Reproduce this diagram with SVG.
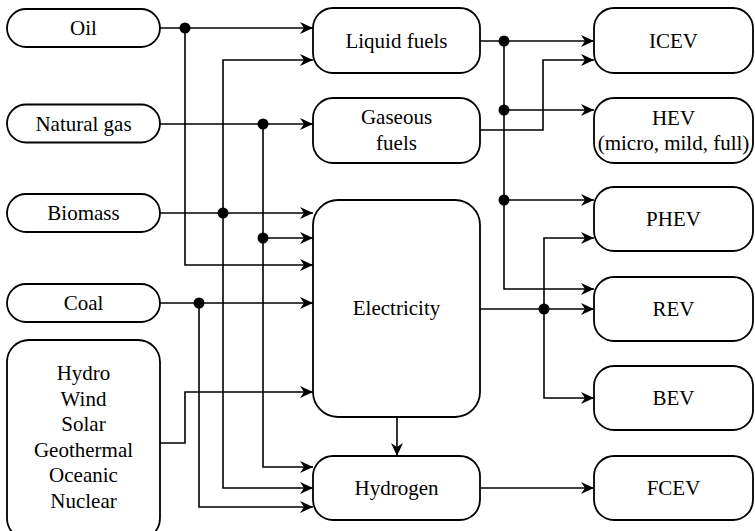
<svg xmlns="http://www.w3.org/2000/svg" width="755" height="531" viewBox="0 0 755 531">
<style>
.box{fill:#fff;stroke:#000;stroke-width:1.8}
.t{font-family:'Liberation Serif','Times New Roman',serif;font-size:21px;text-anchor:middle;fill:#000}
.c{fill:none;stroke:#000;stroke-width:1.6;marker-end:url(#ah)}
.d{fill:#000}
</style>
<defs>
<marker id="ah" markerUnits="userSpaceOnUse" markerWidth="14" markerHeight="12" refX="13" refY="6" orient="auto" viewBox="0 0 14 12">
<path d="M0,0 L13,6 L0,12 L4,6 z" fill="#000"/>
</marker>
</defs>
<g id="connectors">
<path class="c" d="M160,28 H313"/>
<path class="c" d="M185,28 V265 H313"/>
<path class="c" d="M160,124 H313"/>
<path class="c" d="M263,124 V467 H313"/>
<path class="c" d="M263,238 H313"/>
<path class="c" d="M160,213 H313"/>
<path class="c" d="M223,213 V60 H313"/>
<path class="c" d="M223,213 V488 H313"/>
<path class="c" d="M160,303 H313"/>
<path class="c" d="M199,303 V507 H313"/>
<path class="c" d="M160,443 H185 V392 H313"/>
<path class="c" d="M397,417 V456"/>
<path class="c" d="M480,41 H594"/>
<path class="c" d="M504,41 V289 H594"/>
<path class="c" d="M504,110 H594"/>
<path class="c" d="M504,200 H594"/>
<path class="c" d="M480,130 H543 V60 H594"/>
<path class="c" d="M480,309 H594"/>
<path class="c" d="M544,309 V238 H594"/>
<path class="c" d="M544,309 V398 H594"/>
<path class="c" d="M480,488 H594"/>
<circle class="d" cx="185" cy="28" r="5.5"/>
<circle class="d" cx="263" cy="124" r="5.5"/>
<circle class="d" cx="263" cy="238" r="5.5"/>
<circle class="d" cx="223" cy="213" r="5.5"/>
<circle class="d" cx="199" cy="303" r="5.5"/>
<circle class="d" cx="504" cy="41" r="5.5"/>
<circle class="d" cx="504" cy="110" r="5.5"/>
<circle class="d" cx="504" cy="200" r="5.5"/>
<circle class="d" cx="544" cy="309" r="5.5"/>
</g>
<g id="oil"><rect class="box" x="7" y="9" width="153" height="38" rx="19"/><text class="t" x="83.5" y="35">Oil</text></g>
<g id="natural-gas"><rect class="box" x="7" y="104.5" width="153" height="38" rx="19"/><text class="t" x="83.5" y="131">Natural gas</text></g>
<g id="biomass"><rect class="box" x="7" y="194" width="153" height="38" rx="19"/><text class="t" x="83.5" y="220">Biomass</text></g>
<g id="coal"><rect class="box" x="7" y="284" width="153" height="38" rx="19"/><text class="t" x="83.5" y="310">Coal</text></g>
<g id="renewables"><rect class="box" x="7" y="340" width="153" height="200" rx="22"/>
<text class="t" x="83.5" y="380">Hydro</text>
<text class="t" x="83.5" y="405.6">Wind</text>
<text class="t" x="83.5" y="431.2">Solar</text>
<text class="t" x="83.5" y="456.8">Geothermal</text>
<text class="t" x="83.5" y="482.4">Oceanic</text>
<text class="t" x="83.5" y="508">Nuclear</text></g>
<g id="liquid-fuels"><rect class="box" x="313" y="8" width="167" height="65" rx="20"/><text class="t" x="396.5" y="47.5">Liquid fuels</text></g>
<g id="gaseous-fuels"><rect class="box" x="313" y="98" width="167" height="65" rx="20"/><text class="t" x="396.5" y="124">Gaseous</text><text class="t" x="396.5" y="149.5">fuels</text></g>
<g id="electricity"><rect class="box" x="313" y="200" width="167" height="217" rx="25"/><text class="t" x="396.5" y="315">Electricity</text></g>
<g id="hydrogen"><rect class="box" x="313" y="456" width="167" height="64" rx="20"/><text class="t" x="396.5" y="495">Hydrogen</text></g>
<g id="icev"><rect class="box" x="594" y="8" width="159" height="65" rx="20"/><text class="t" x="673.5" y="47.5">ICEV</text></g>
<g id="hev"><rect class="box" x="594" y="98" width="159" height="65" rx="20"/><text class="t" x="673.5" y="124.5">HEV</text><text class="t" x="673.5" y="150">(micro, mild, full)</text></g>
<g id="phev"><rect class="box" x="594" y="187" width="159" height="64" rx="20"/><text class="t" x="673.5" y="226">PHEV</text></g>
<g id="rev"><rect class="box" x="594" y="277" width="159" height="64" rx="20"/><text class="t" x="673.5" y="316">REV</text></g>
<g id="bev"><rect class="box" x="594" y="366" width="159" height="64" rx="20"/><text class="t" x="673.5" y="405">BEV</text></g>
<g id="fcev"><rect class="box" x="594" y="456" width="159" height="64" rx="20"/><text class="t" x="673.5" y="495">FCEV</text></g>
</svg>
